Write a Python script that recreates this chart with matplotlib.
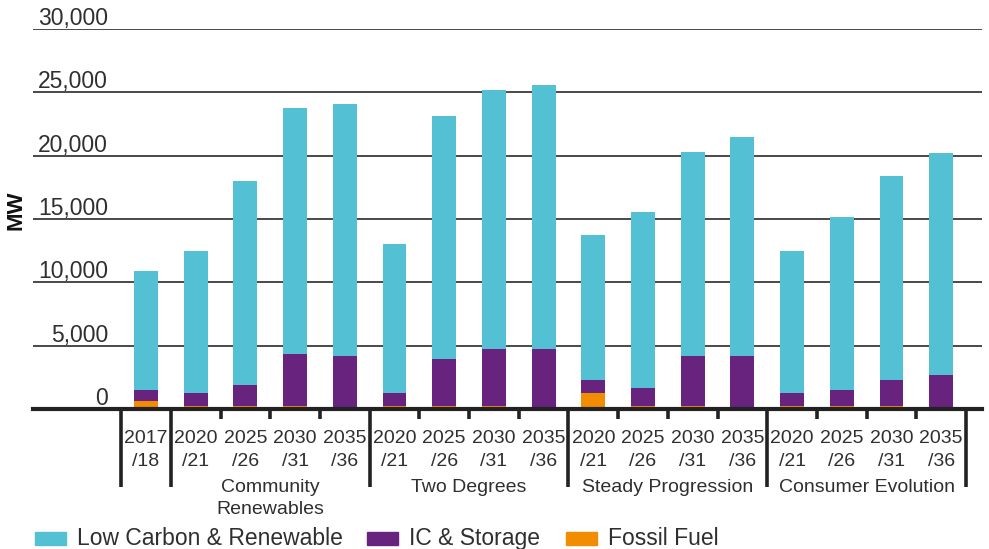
import matplotlib
matplotlib.use('Agg')
import matplotlib.pyplot as plt
import matplotlib.patches as mpatches
import matplotlib.transforms as mtransforms
from matplotlib import font_manager
import numpy as np

#%% Data (MW)

years = ['2017\n/18',
         '2020\n/21', '2025\n/26', '2030\n/31', '2035\n/36',
         '2020\n/21', '2025\n/26', '2030\n/31', '2035\n/36',
         '2020\n/21', '2025\n/26', '2030\n/31', '2035\n/36',
         '2020\n/21', '2025\n/26', '2030\n/31', '2035\n/36']

groups = ['Community\nRenewables', 'Two Degrees', 'Steady Progression', 'Consumer Evolution']

totals = [10900,
          12500, 18000, 23800, 24100,
          13000, 23150, 25200, 25600,
          13750, 15550, 20250, 21500,
          12500, 15150, 18400, 20250]

ic_storage_top = [1500,
                  1300, 1900, 4350, 4150,
                  1300, 3950, 4750, 4750,
                  2300, 1650, 4150, 4150,
                  1300, 1500, 2300, 2700]

fossil = [650,
          200, 200, 200, 0,
          200, 200, 200, 0,
          1300, 200, 200, 0,
          200, 200, 200, 0]

series_names = ['Low Carbon & Renewable', 'IC & Storage', 'Fossil Fuel']
colors = ['#53c0d4', '#68237e', '#f28c00']

fossil = np.array(fossil)
ic = np.array(ic_storage_top) - fossil
low_carbon = np.array(totals) - np.array(ic_storage_top)

#%% Fonts

names = {f.name for f in font_manager.fontManager.ttflist}
main_font = 'Liberation Sans' if 'Liberation Sans' in names else 'DejaVu Sans'
txt_color = '#2f2f2f'

#%% Plot

W, H = 989, 549
fig = plt.figure(figsize=(W/100, H/100), dpi=100)

x0_px, x1_px = 33, 982
y0_px, y1_px = 409, 29
ax = fig.add_axes([x0_px/W, (H-y0_px)/H, (x1_px-x0_px)/W, (y0_px-y1_px)/H])

n = len(totals)
x = np.arange(n)
step = 49.7
first_c = 146
ax.set_xlim((x0_px-first_c)/step, (x1_px-first_c)/step)
ax.set_ylim(0, 30000)

for v in range(5000, 30001, 5000):
    ax.axhline(v, color='#3a3a3a', lw=1.3, zorder=1)

w = 0.48
ax.bar(x, fossil, w, color=colors[2], zorder=2)
ax.bar(x, ic, w, bottom=fossil, color=colors[1], zorder=2)
ax.bar(x, low_carbon, w, bottom=fossil+ic, color=colors[0], zorder=2)

for s in ax.spines.values():
    s.set_visible(False)
ax.set_xticks([])
ax.set_yticks([])

# baseline
ax.axhline(0, color='#222222', lw=3, zorder=3, clip_on=False)

def fy(y):
    return H - y

# y labels, right-aligned above the gridlines
for v in range(0, 30001, 5000):
    ypix = y0_px - v*(y0_px-y1_px)/30000
    fig.text(108/W, fy(ypix - 4)/H, '{:,}'.format(v), ha='right', va='baseline',
             fontsize=16.5, family=main_font, color=txt_color)

fig.text(16/W, fy(210)/H, 'MW', rotation=90, ha='center', va='center',
         fontsize=16, fontweight='bold', family=main_font, color='#111111')

# ticks below axis
bx = mtransforms.blended_transform_factory(ax.transData, fig.transFigure)
long_b = [-0.5, 0.5, 4.5, 8.5, 12.5, 16.5]
for b in np.arange(-0.5, n, 1.0):
    bottom = 487 if b in long_b else 419
    ax.plot([b, b], [fy(409)/H, fy(bottom)/H], color='#222222', lw=2.6,
            transform=bx, clip_on=False, solid_capstyle='butt')

# category labels
for i, lab in enumerate(years):
    top, bot = lab.split('\n')
    fig.text(x[i], fy(443)/H, top, transform=bx, ha='center', va='baseline',
             fontsize=14, family=main_font, color=txt_color)
    fig.text(x[i], fy(466)/H, bot, transform=bx, ha='center', va='baseline',
             fontsize=14, family=main_font, color=txt_color)

group_centers = [2.5, 6.5, 10.5, 14.5]
for c, g in zip(group_centers, groups):
    for k, line in enumerate(g.split('\n')):
        fig.text(c, fy(492 + 22*k)/H, line, transform=bx, ha='center', va='baseline',
                 fontsize=14, family=main_font, color=txt_color)

# legend
patch_x = [35, 367, 566]
for px0, name, col in zip(patch_x, series_names, colors):
    fig.patches.append(mpatches.Rectangle((px0/W, fy(545)/H), 31/W, 13/H,
                                          transform=fig.transFigure, color=col))
    fig.text((px0 + 42)/W, fy(545)/H, name, ha='left', va='baseline',
             fontsize=16.5, family=main_font, color=txt_color)

plt.savefig('out.png', dpi=100)
